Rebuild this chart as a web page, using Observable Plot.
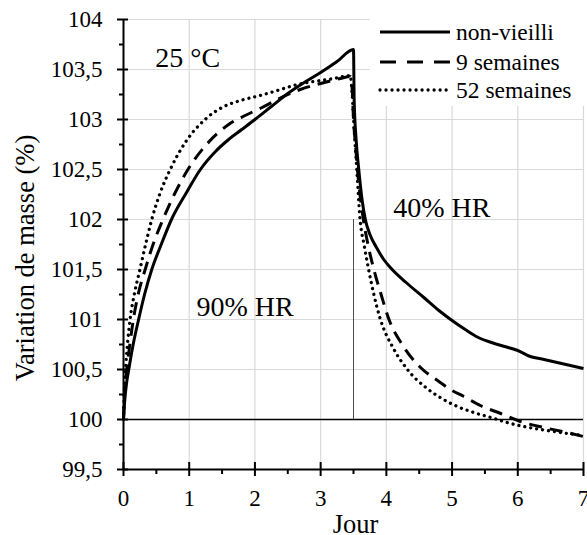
<!DOCTYPE html>
<html><head><meta charset="utf-8">
<script src="https://cdn.jsdelivr.net/npm/d3@7"></script>
<script src="https://cdn.jsdelivr.net/npm/@observablehq/plot@0.6"></script>
<style>
html,body{margin:0;padding:0;background:#fff;}
#wrap{position:relative;width:587px;height:535px;overflow:hidden;}
#legend{position:absolute;left:370px;top:0;width:217px;height:106px;background:#fff;}
</style></head><body><div id="wrap"><div id="legend"></div></div>
<script>
// ---- data ----
const seriesNames = ["non-vieilli", "9 semaines", "52 semaines"];

const daysNonVieilli = [0, 0.02, 0.05, 0.08, 0.15, 0.23, 0.32, 0.43, 0.58, 0.73, 0.95, 1.17, 1.4, 1.6, 1.8, 2.0, 2.25, 2.5, 2.75, 3.0, 3.25, 3.5, 3.51, 3.54, 3.58, 3.63, 3.68, 3.75, 3.85, 3.96, 4.06, 4.3, 4.57, 4.8, 5.0, 5.2, 5.4, 5.6, 5.8, 6.0, 6.19, 6.4, 6.6, 6.8, 7.0];
const massNonVieilli = [100, 100.2, 100.38, 100.5, 100.76, 101.0, 101.25, 101.5, 101.76, 102.0, 102.26, 102.5, 102.68, 102.8, 102.9, 103.0, 103.13, 103.26, 103.37, 103.47, 103.58, 103.7, 103.2, 102.8, 102.5, 102.2, 102.0, 101.85, 101.72, 101.6, 101.52, 101.37, 101.22, 101.09, 100.99, 100.9, 100.82, 100.77, 100.73, 100.69, 100.63, 100.6, 100.57, 100.54, 100.51];

const days9sem = [0, 0.02, 0.05, 0.1, 0.15, 0.23, 0.33, 0.45, 0.6, 0.78, 0.98, 1.25, 1.6, 1.85, 2.11, 2.4, 2.69, 3.0, 3.3, 3.45, 3.48, 3.5, 3.53, 3.56, 3.65, 3.72, 3.81, 3.92, 4.04, 4.25, 4.52, 4.8, 5.0, 5.18, 5.43, 5.74, 6.04, 6.39, 6.75, 7.0];
const mass9sem = [100, 100.28, 100.5, 100.77, 101.0, 101.27, 101.5, 101.75, 102.0, 102.26, 102.5, 102.74, 102.95, 103.04, 103.12, 103.22, 103.3, 103.36, 103.41, 103.43, 103.3, 103.0, 102.75, 102.5, 102.0, 101.75, 101.5, 101.25, 101.0, 100.74, 100.52, 100.38, 100.29, 100.23, 100.14, 100.06, 99.98, 99.92, 99.87, 99.83];

const days52sem = [0, 0.01, 0.03, 0.06, 0.1, 0.17, 0.25, 0.34, 0.43, 0.56, 0.71, 0.95, 1.24, 1.5, 1.78, 2.08, 2.39, 2.59, 2.8, 3.0, 3.2, 3.45, 3.48, 3.51, 3.55, 3.6, 3.66, 3.73, 3.81, 3.91, 4.1, 4.32, 4.6, 4.82, 5.08, 5.33, 5.59, 5.84, 6.09, 6.35, 6.65, 7.0];
const mass52sem = [100, 100.25, 100.5, 100.75, 101.0, 101.27, 101.5, 101.76, 102.0, 102.27, 102.5, 102.78, 103.0, 103.12, 103.19, 103.24, 103.3, 103.34, 103.37, 103.39, 103.41, 103.44, 103.25, 102.9, 102.5, 102.0, 101.75, 101.5, 101.25, 101.0, 100.72, 100.5, 100.32, 100.22, 100.13, 100.07, 100.02, 99.97, 99.93, 99.9, 99.87, 99.84];

const xDomain = [0, 7];
const yDomain = [99.5, 104];
const xTicks = [0, 1, 2, 3, 4, 5, 6, 7];
const xMinorTicks = [0.5, 1.5, 2.5, 3.5, 4.5, 5.5, 6.5];
const yTicks = [99.5, 100, 100.5, 101, 101.5, 102, 102.5, 103, 103.5, 104];
const yMinorTicks = [99.75, 100.25, 100.75, 101.25, 101.75, 102.25, 102.75, 103.25, 103.75];

const annotationTexts = ["25 °C", "90% HR", "40% HR"];
const annotationDays = [0.485, 1.11, 4.105];
const annotationMasses = [103.525, 101.04, 102.03];

const switchDay = [3.5];
const switchMassRange = [100, 102];
const referenceMass = [100];

const xTitle = "Jour";
const yTitle = "Variation de masse (%)";

// ---- build tables ----
const toRows = (days, mass) => days.map((d, i) => ({day: d, mass: mass[i]}));
const rows = [toRows(daysNonVieilli, massNonVieilli), toRows(days9sem, mass9sem), toRows(days52sem, mass52sem)];
const styles = [
  {strokeWidth: 3, strokeDasharray: null, legendDash: null, strokeLinecap: "butt"},
  {strokeWidth: 3, strokeDasharray: "13,8", legendDash: "16,11", strokeLinecap: "butt"},
  {strokeWidth: 3.3, strokeDasharray: "0.01,6", legendDash: "0.01,6", strokeLinecap: "round"}
];
const annotations = annotationTexts.map((t, i) => ({text: t, day: annotationDays[i], mass: annotationMasses[i]}));
const commaFmt = d => String(d).replace(".", ",");
const FONT = "'Liberation Serif', 'Times New Roman', serif";

const chart = Plot.plot({
  width: 587,
  height: 535,
  marginLeft: 123,
  marginRight: 4,
  marginTop: 19,
  marginBottom: 66,
  style: {fontFamily: FONT, fontSize: "23px", color: "black", background: "white"},
  x: {domain: xDomain, label: null},
  y: {domain: yDomain, label: null},
  marks: [
    Plot.gridX(xTicks, {stroke: "#d9d9d9", strokeOpacity: 1, strokeWidth: 1.2}),
    Plot.gridY(yTicks, {stroke: "#d9d9d9", strokeOpacity: 1, strokeWidth: 1.2}),
    Plot.ruleY(referenceMass, {stroke: "black", strokeWidth: 1.6}),
    Plot.ruleX(switchDay, {y1: switchMassRange[0], y2: switchMassRange[1], stroke: "#4d4d4d", strokeWidth: 1}),
    ...rows.map((r, i) => Plot.line(r, {x: "day", y: "mass", stroke: "black", curve: "monotone-x", strokeLinejoin: "round",
      strokeWidth: styles[i].strokeWidth, strokeDasharray: styles[i].strokeDasharray, strokeLinecap: styles[i].strokeLinecap})),
    Plot.text(annotations, {x: "day", y: "mass", text: "text", textAnchor: "start", lineAnchor: "bottom", fontSize: 28, fill: "black"}),
    Plot.ruleX([xDomain[0]], {stroke: "black", strokeWidth: 2}),
    Plot.ruleY([yDomain[0]], {stroke: "black", strokeWidth: 2}),
    // y ticks (major cross the axis, minor outside only)
    Plot.axisY(yTicks, {tickSize: 11, dx: 5, strokeWidth: 2, tickFormat: () => "", label: null}),
    Plot.axisY(yMinorTicks, {tickSize: 4, strokeWidth: 2, tickFormat: () => "", label: null}),
    Plot.text(yTicks, {y: d => d, text: commaFmt, frameAnchor: "left", textAnchor: "end", lineAnchor: "middle", dx: -21, fontSize: 23, fill: "black"}),
    // x ticks
    Plot.axisX(xTicks, {tickSize: 14, dy: -7, tickPadding: 13, strokeWidth: 2, fontSize: 23, label: null}),
    Plot.axisX(xMinorTicks, {tickSize: 5, strokeWidth: 2, tickFormat: () => "", label: null}),
    // axis titles
    Plot.text([xTitle], {frameAnchor: "bottom", textAnchor: "middle", lineAnchor: "bottom", dy: 63, dx: 2, fontSize: 26.5, fill: "black"}),
    Plot.text([yTitle], {frameAnchor: "left", textAnchor: "middle", lineAnchor: "bottom", rotate: -90, dx: -90, dy: 13.5, fontSize: 26.5, fill: "black"})
  ]
});
const wrap = document.getElementById("wrap");
wrap.insertBefore(chart, wrap.firstChild);

// ---- legend (overlay box, top right) ----
const lg = d3.select("#legend").append("svg").attr("width", 217).attr("height", 106)
  .style("font-family", FONT).style("font-size", "23.5px");
const rowY = [32, 62, 90];
seriesNames.forEach((name, i) => {
  const st = styles[i];
  const ln = lg.append("line").attr("x1", 10).attr("x2", 80).attr("y1", rowY[i]).attr("y2", rowY[i])
    .attr("stroke", "black").attr("stroke-width", st.strokeWidth).attr("stroke-linecap", st.strokeLinecap);
  if (st.legendDash) ln.attr("stroke-dasharray", st.legendDash);
  lg.append("text").attr("x", 86).attr("y", rowY[i] + 7.5).attr("fill", "black").text(name);
});
</script></body></html>
